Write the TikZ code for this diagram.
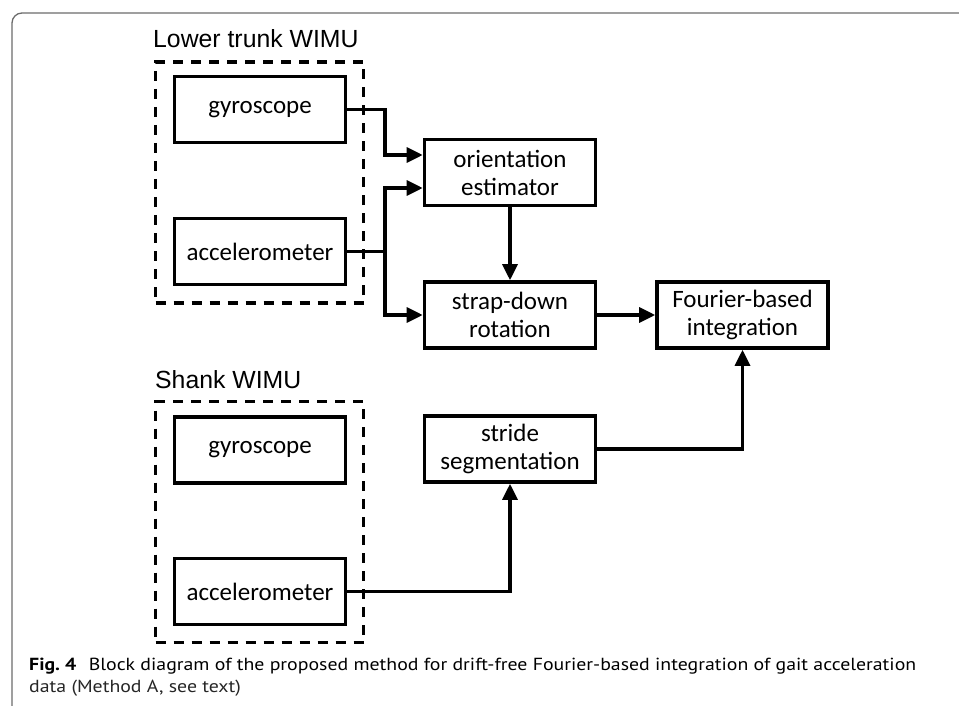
\documentclass[tikz,border=0pt]{standalone}
\usepackage{fontspec}
\setmainfont{Carlito}
\newfontfamily\labfont{Liberation Sans}
\newfontfamily\capfont{PT Sans}
\usetikzlibrary{arrows.meta,calc}
\newsavebox\capbox
\newlength\capw
\begin{document}
\sbox\capbox{\capfont\fontsize{17.5}{22}\selectfont\textbf{Fig.\ 4}\hspace{11pt}Block diagram of the proposed method for drift-free Fourier-based integration of gait acceleration}%
\setlength\capw{\wd\capbox}%
\pgfmathsetmacro\capscale{887/\capw}%
\begin{tikzpicture}[x=1pt,y=-1pt,
  blk/.style={draw,line width=3.6pt,minimum width=171pt,minimum height=66pt,inner sep=0pt,align=center,font=\fontsize{25}{28}\selectfont},
  grp/.style={draw,line width=3.4pt,dash pattern=on 10pt off 8pt,minimum width=208pt,minimum height=241pt,inner sep=0pt},
  conn/.style={line width=3.3pt,-{Triangle[length=16pt,width=15pt]}},
  lab/.style={anchor=base west,inner sep=0pt,font=\labfont\fontsize{24.8}{28}\selectfont},
  captext/.style={anchor=base west,inner sep=0pt,text=black!85},
  framelines/.style={draw=black!58,line width=1.3pt,rounded corners=10pt}]
\useasboundingbox (0,0) rectangle (959,706);
% frame
\draw[framelines] (12,710) -- (12,13) -- (965,13);
% group boxes
\node[grp] (g1) at (259.5,182.5) {};
\node[grp] (g2) at (259.5,522) {};
\node[lab] (l1) at (153,47.5) {Lower trunk WIMU};
\node[lab] (l2) at (155,388.3) {Shank WIMU};
% blocks
\node[blk] (gy1) at (260,109.5) {gyroscope};
\node[blk] (ac1) at (260,251.5) {accelerometer};
\node[blk] (ori) at (510,172.5) {orientation\\estimator};
\node[blk] (sd) at (510,315) {strap-down\\rotation};
\node[blk] (fb) at (742.5,315) {Fourier-based\\integration};
\node[blk] (st) at (510,449) {stride\\segmentation};
\node[blk] (gy2) at (260,450) {gyroscope};
\node[blk] (ac2) at (260,591.5) {accelerometer};
% connectors
\coordinate (j1) at (385,109.5);
\coordinate (j2) at (385,251.5);
\draw[conn] (gy1.east) -- (j1) |- ($(ori.west)+(0,-17.5)$);
\draw[conn] (ac1.east) -- (j2) |- ($(ori.west)+(0,15.5)$);
\draw[conn] (j2) |- (sd.west);
\draw[conn] (ori.south) -- (sd.north);
\draw[conn] (sd.east) -- (fb.west);
\draw[conn] (st.east) -| (fb.south);
\draw[conn] (ac2.east) -| (st.south);
% caption
\node[captext] (c1) at (29,670) {\scalebox{\capscale}[1]{\usebox\capbox}};
\node[captext] (c2) at (29,692) {\scalebox{\capscale}[1]{\capfont\fontsize{17.5}{22}\selectfont data (Method A, see text)}};
\end{tikzpicture}
\end{document}
